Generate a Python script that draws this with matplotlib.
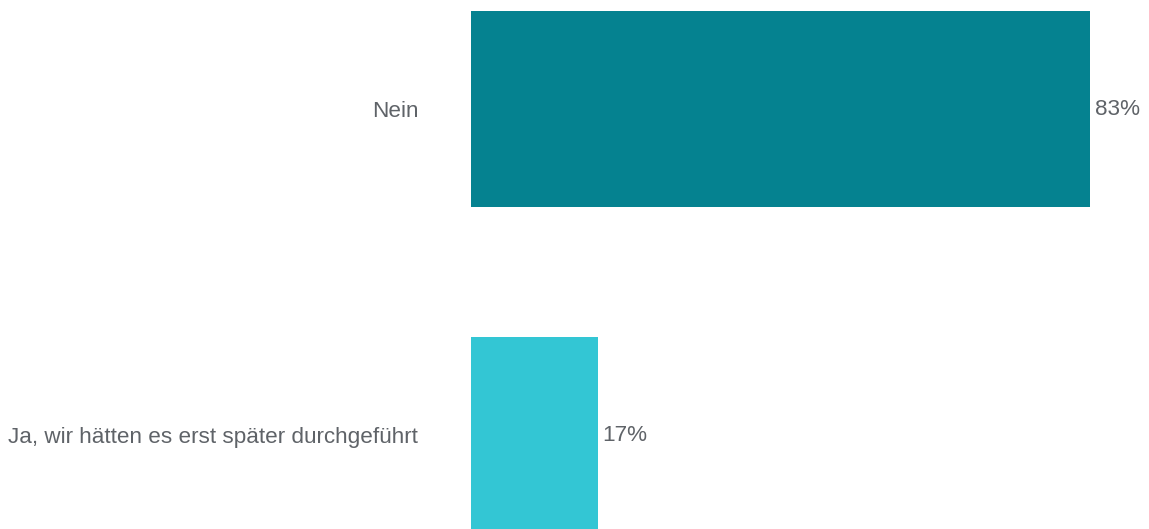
import matplotlib
matplotlib.use("Agg")
import matplotlib.pyplot as plt

categories = ["Nein", "Ja, wir hätten es erst später durchgeführt"]
values = [83, 17]
value_labels = ["83%", "17%"]
colors = ["#058290", "#33c6d4"]

plt.rcParams["font.family"] = ["Liberation Sans", "DejaVu Sans"]

W, H, DPI = 1149, 529, 100
fig = plt.figure(figsize=(W / DPI, H / DPI), dpi=DPI)
fig.patch.set_facecolor("white")

left_px = 471
ax = fig.add_axes([left_px / W, 0, 1 - left_px / W, 1])

positions = list(range(len(categories)))
ax.barh(positions, values, height=0.601, color=colors, linewidth=0)

ax.set_xlim(0, 90.9)
ax.set_ylim(1.288, -0.334)

ax.set_yticks(positions)
ax.set_yticklabels(categories, fontsize=16.2, color="#5f6368")
ax.tick_params(axis="y", length=0, pad=38)
ax.set_xticks([])

for pos, val, lab in zip(positions, values, value_labels):
    ax.annotate(lab, xy=(val, pos), xytext=(3.5, -0.5), textcoords="offset points",
                va="center", ha="left", fontsize=16.2, color="#5f6368")

for s in ax.spines.values():
    s.set_visible(False)

fig.savefig("out.png", dpi=DPI, facecolor="white")
